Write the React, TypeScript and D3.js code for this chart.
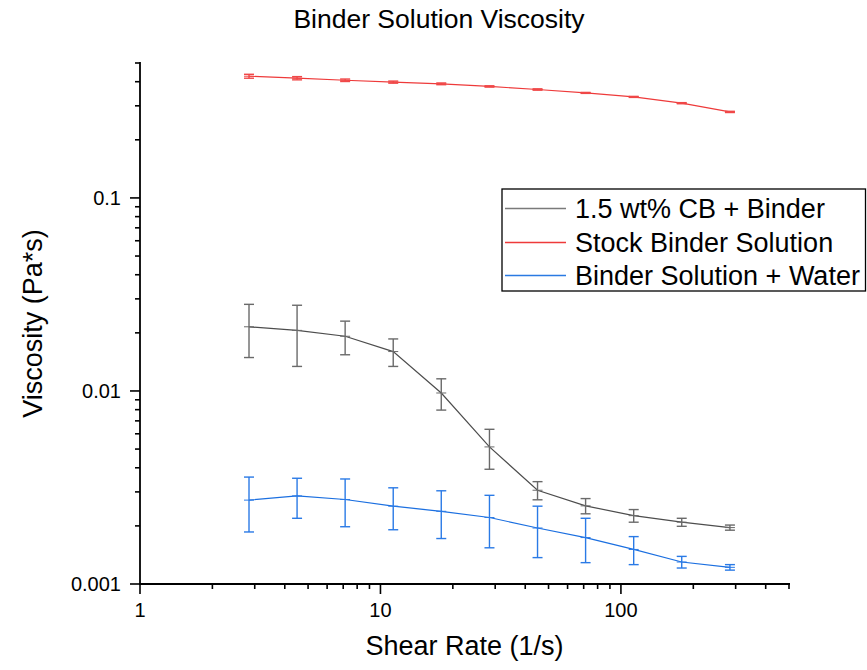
import React from 'react';
import * as d3 from 'd3';

// shear rates (1/s), shared by all three series
const shearRate = [2.84, 4.5, 7.13, 11.3, 17.9, 28.4, 45, 71.3, 113, 179, 284];

const cbBinder = [0.0215, 0.0206, 0.0192, 0.016, 0.00976, 0.00513, 0.00306, 0.00254, 0.00226, 0.00209, 0.00196];
const cbBinderErr = [0.0066, 0.0072, 0.0038, 0.0026, 0.0018, 0.0012, 0.00033, 0.00023, 0.00017, 0.0001, 0.00006];

const stockBinder = [0.427, 0.417, 0.407, 0.398, 0.39, 0.378, 0.3645, 0.35, 0.3337, 0.3096, 0.279];
const stockBinderErr = [0.01, 0.008, 0.006, 0.005, 0.004, 0.003, 0.003, 0.002, 0.002, 0.002, 0.002];

const binderWater = [0.00272, 0.00286, 0.00274, 0.00253, 0.00238, 0.00221, 0.00195, 0.00174, 0.00151, 0.0013, 0.00122];
const binderWaterErr = [0.00086, 0.00067, 0.00076, 0.00062, 0.00066, 0.00067, 0.00058, 0.00045, 0.00025, 0.00009, 0.00004];

const seriesNames = ['1.5 wt% CB + Binder', 'Stock Binder Solution', 'Binder Solution + Water'];

const xTicks = [1, 10, 100];
const yTicks = [0.001, 0.01, 0.1];
const yTickLabels = ['0.001', '0.01', '0.1'];

const W = 867;
const H = 670;
const font = 'Liberation Sans, Arial, sans-serif';

const App = () => {
    const margin = { left: 140, right: 78, top: 63, bottom: 86 };

    const x = d3.scaleLog().domain([1, 500]).range([margin.left, W - margin.right]);
    const y = d3.scaleLog().domain([0.001, 0.5]).range([H - margin.bottom, margin.top]);

    const series = [
        { name: seriesNames[0], vals: cbBinder, err: cbBinderErr, line: '#4d4d4d', bar: '#6a6a6a', legend: '#7a7a7a' },
        { name: seriesNames[1], vals: stockBinder, err: stockBinderErr, line: '#ee3a3a', bar: '#f04848', legend: '#ee3a3a' },
        { name: seriesNames[2], vals: binderWater, err: binderWaterErr, line: '#1b6fe0', bar: '#2a7ae6', legend: '#2a7ae2' },
    ];

    const line = d3.line<[number, number]>()
        .x(d => x(d[0]))
        .y(d => y(d[1]));

    // minor ticks for the log axes
    const xMinor: number[] = [];
    [1, 10, 100].forEach(dec => {
        for (let k = 2; k <= 9; k++) {
            const v = dec * k;
            if (v <= 500) xMinor.push(v);
        }
    });
    const yMinor: number[] = [];
    [0.001, 0.01, 0.1].forEach(dec => {
        for (let k = 2; k <= 9; k++) {
            const v = dec * k;
            if (v <= 0.5 + 1e-9) yMinor.push(v);
        }
    });

    const x0 = margin.left;
    const y0 = H - margin.bottom;

    return (
        <div style={{ position: 'absolute', left: 0, top: 0 }}>
            <svg width={W} height={H} style={{ display: 'block', background: '#fff', fontFamily: font }}>
                <text x={439} y={28} fontSize={26.5} textAnchor="middle" fill="#000">Binder Solution Viscosity</text>

                {/* series */}
                {series.map(s => (
                    <g key={s.name}>
                        <path
                            d={line(shearRate.map((r, i) => [r, s.vals[i]] as [number, number])) || ''}
                            fill="none"
                            stroke={s.line}
                            strokeWidth={1.2}
                        />
                        {shearRate.map((r, i) => {
                            const cx = x(r);
                            const yt = y(s.vals[i] + s.err[i]);
                            const yb = y(s.vals[i] - s.err[i]);
                            return (
                                <g key={i} stroke={s.bar} strokeWidth={1.4}>
                                    <line x1={cx} x2={cx} y1={yt} y2={yb} />
                                    <line x1={cx - 5} x2={cx + 5} y1={yt} y2={yt} />
                                    <line x1={cx - 5} x2={cx + 5} y1={yb} y2={yb} />
                                    <line x1={cx - 5} x2={cx + 5} y1={y(s.vals[i])} y2={y(s.vals[i])} strokeWidth={1} />
                                </g>
                            );
                        })}
                    </g>
                ))}

                {/* x axis */}
                <g stroke="#000">
                    <line x1={x0 - 1} x2={W - margin.right + 1} y1={y0} y2={y0} strokeWidth={1.8} />
                    {xTicks.map(t => (
                        <line key={t} x1={x(t)} x2={x(t)} y1={y0} y2={y0 + 10} strokeWidth={1.6} />
                    ))}
                    {xMinor.map(t => (
                        <line key={t} x1={x(t)} x2={x(t)} y1={y0} y2={y0 + 5} strokeWidth={1.6} />
                    ))}
                </g>
                {xTicks.map(t => (
                    <text key={t} x={x(t)} y={617} fontSize={20} textAnchor="middle" fill="#000">{t}</text>
                ))}
                <text x={(x0 + W - margin.right) / 2} y={655} fontSize={27} textAnchor="middle" fill="#000">Shear Rate (1/s)</text>

                {/* y axis */}
                <g stroke="#000">
                    <line x1={x0} x2={x0} y1={margin.top - 1} y2={y0 + 1} strokeWidth={1.8} />
                    {yTicks.map(t => (
                        <line key={t} x1={x0 - 10} x2={x0} y1={y(t)} y2={y(t)} strokeWidth={1.6} />
                    ))}
                    {yMinor.map(t => (
                        <line key={t} x1={x0 - 5} x2={x0} y1={y(t)} y2={y(t)} strokeWidth={1.6} />
                    ))}
                </g>
                {yTicks.map((t, i) => (
                    <text key={t} x={121} y={y(t)} dy="0.36em" fontSize={20} textAnchor="end" fill="#000">{yTickLabels[i]}</text>
                ))}
                <text
                    transform={`translate(42,${(margin.top + y0) / 2}) rotate(-90)`}
                    fontSize={27}
                    textAnchor="middle"
                    fill="#000"
                >Viscosity (Pa*s)</text>

                {/* legend */}
                <g>
                    <rect x={502} y={189} width={363.5} height={102} fill="#fff" stroke="#000" strokeWidth={1.3} />
                    {series.map((s, i) => {
                        const ly = Math.round(208 + i * 33.5) + 0.5;
                        return (
                            <g key={s.name}>
                                <line x1={505} x2={566} y1={ly} y2={ly} stroke={s.legend} strokeWidth={1.3} />
                                <text x={575} y={ly} dy="0.36em" fontSize={27} fill="#000">{s.name}</text>
                            </g>
                        );
                    })}
                </g>
            </svg>
        </div>
    );
};

export default App;
